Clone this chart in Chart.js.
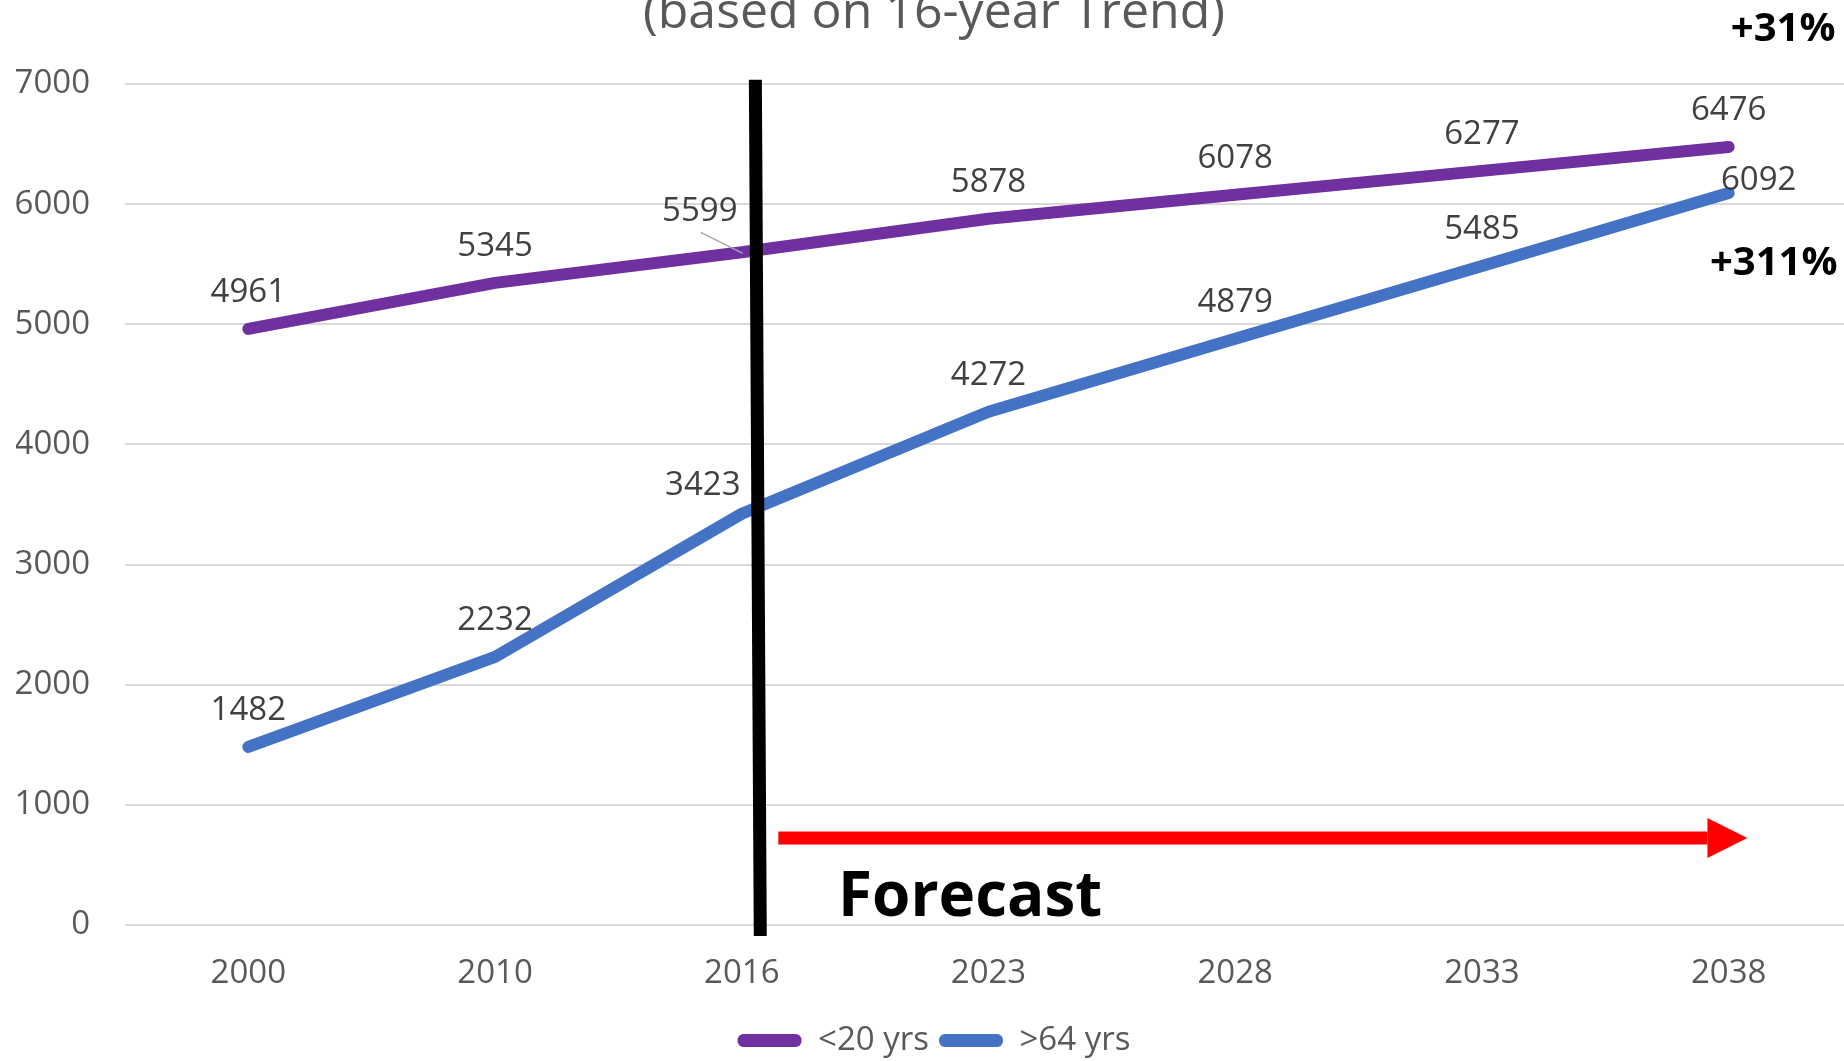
<!DOCTYPE html>
<html>
<head>
<meta charset="utf-8">
<script src="https://cdn.jsdelivr.net/npm/chart.js@4.4.1/dist/chart.umd.min.js"></script>
<style>
html,body{margin:0;padding:0;background:#fff;overflow:hidden;}
#wrap{position:absolute;left:0;top:-40px;width:1878px;height:1109px;}
</style>
</head>
<body>
<div id="wrap"><canvas id="popChart"></canvas></div>
<script>
var years = ['2000', '2010', '2016', '2023', '2028', '2033', '2038'];
var under20 = [4961, 5345, 5599, 5878, 6078, 6277, 6476];
var over64 = [1482, 2232, 3423, 4272, 4879, 5485, 6092];
var seriesNames = ['<20 yrs', '>64 yrs'];
var seriesColors = ['#7030A0', '#4472C4'];
var yMin = 0, yMax = 7000, yStep = 1000;
var growth = ['+31%', '+311%'];
var forecastText = 'Forecast';
var subTitle = '(based on 16-year Trend)';

// nudges for a few value labels, px: [dx, dy, leader line]
var labelShift = {'0-2': [-42, -4, true], '1-2': [-39, 8], '1-6': [30, 24]};

Chart.defaults.font.family = "'Open Sans', sans-serif";

var extras = {
  id: 'extras',
  afterDatasetsDraw: function (chart) {
    var ctx = chart.ctx, x = chart.scales.x, y = chart.scales.y;
    ctx.save();
    // split between actual and forecast
    ctx.strokeStyle = '#000';
    ctx.lineWidth = 13;
    ctx.beginPath();
    ctx.moveTo(x.getPixelForValue(2.055), y.getPixelForValue(7035));
    ctx.lineTo(x.getPixelForValue(2.075), y.getPixelForValue(-92));
    ctx.stroke();

    // red forecast arrow
    var ay = y.getPixelForValue(724);
    var ax0 = x.getPixelForValue(2.148), ax1 = x.getPixelForValue(5.914), tip = x.getPixelForValue(6.076);
    ctx.fillStyle = '#FF0000';
    ctx.fillRect(ax0, ay - 6.5, ax1 - ax0, 13);
    ctx.beginPath();
    ctx.moveTo(ax1, ay - 20);
    ctx.lineTo(tip, ay);
    ctx.lineTo(ax1, ay + 20);
    ctx.closePath();
    ctx.fill();

    ctx.fillStyle = '#000';
    ctx.textBaseline = 'alphabetic';
    ctx.textAlign = 'left';
    ctx.font = "bold 62px 'Open Sans'";
    ctx.fillText(forecastText, x.getPixelForValue(2.39), y.getPixelForValue(79));
    ctx.textAlign = 'right';
    ctx.font = "bold 40px 'Open Sans'";
    ctx.fillText(growth[0], x.getPixelForValue(6.433), y.getPixelForValue(7358));
    ctx.fillText(growth[1], x.getPixelForValue(6.441), y.getPixelForValue(5410));

    // value labels
    ctx.font = "33px 'Open Sans'";
    ctx.textAlign = 'center';
    chart.data.datasets.forEach(function (ds, di) {
      chart.getDatasetMeta(di).data.forEach(function (pt, i) {
        var s = labelShift[di + '-' + i] || [0, 0];
        var lx = pt.x + s[0], ly = pt.y - 27 + s[1];
        if (s[2]) {
          ctx.strokeStyle = '#A6A6A6';
          ctx.lineWidth = 1.5;
          ctx.beginPath();
          ctx.moveTo(lx + 1, ly + 11);
          ctx.lineTo(pt.x + 1, pt.y + 1);
          ctx.stroke();
        }
        ctx.fillStyle = '#404040';
        ctx.fillText(ds.data[i], lx, ly);
      });
    });
    ctx.restore();
  }
};

function lineSet(name, data, color) {
  return {
    label: name, data: data,
    borderColor: color, backgroundColor: color,
    borderWidth: 12, borderCapStyle: 'round', borderJoinStyle: 'round',
    pointRadius: 0, pointHoverRadius: 0, tension: 0, fill: false
  };
}

var popChart = new Chart(document.getElementById('popChart').getContext('2d'), {
  type: 'line',
  data: {
    labels: years,
    datasets: [lineSet(seriesNames[0], under20, seriesColors[0]), lineSet(seriesNames[1], over64, seriesColors[1])]
  },
  options: {
    responsive: true,
    maintainAspectRatio: false,
    animation: false,
    events: [],
    layout: {padding: {left: 16, right: 26, top: 0, bottom: 2}},
    scales: {
      x: {
        offset: true,
        grid: {display: false, offset: true},
        border: {display: false},
        ticks: {font: {size: 33, lineHeight: 1.0}, color: '#595959', padding: 24, maxRotation: 0}
      },
      y: {
        min: yMin, max: yMax,
        grid: {color: '#D9D9D9', lineWidth: 2, drawTicks: false},
        border: {display: false},
        ticks: {
          stepSize: yStep, font: {size: 33}, color: '#595959', padding: 35,
          callback: function (v) { return String(v); }
        },
        afterFit: function (scale) { scale.width = 109; }
      }
    },
    plugins: {
      title: {
        display: true, text: subTitle, color: '#595959',
        font: {size: 50, weight: 'normal'},
        padding: {top: 24, bottom: 40}
      },
      legend: {
        position: 'bottom',
        labels: {
          boxWidth: 64, boxHeight: 13, useBorderRadius: true, borderRadius: 6,
          font: {size: 33}, color: '#595959', padding: 10,
          generateLabels: function (chart) {
            var items = Chart.defaults.plugins.legend.labels.generateLabels(chart);
            items.forEach(function (it) { it.lineWidth = 0; });
            return items;
          }
        }
      },
      tooltip: {enabled: false}
    }
  },
  plugins: [extras]
});
</script>
</body>
</html>
